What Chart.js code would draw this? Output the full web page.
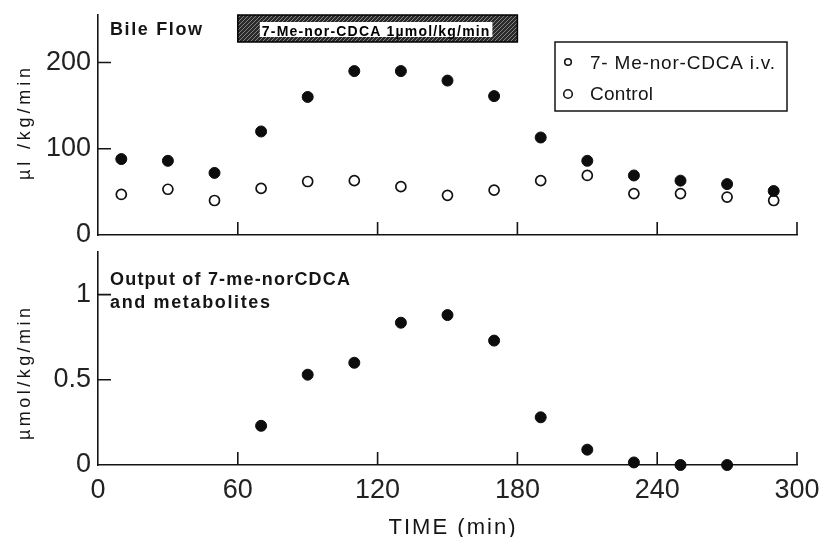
<!DOCTYPE html>
<html><head><meta charset="utf-8">
<script src="https://cdn.jsdelivr.net/npm/chart.js@4.4.0/dist/chart.umd.min.js"></script>
<style>
html,body{margin:0;padding:0;background:#fff;}
#wrap{position:relative;width:820px;height:537px;overflow:hidden;background:#fff;}
canvas{position:absolute;left:0;}
#c1{top:0;} #c2{top:245px;}
</style></head><body>
<div id="wrap"><canvas id="c1" width="820" height="260"></canvas><canvas id="c2" width="820" height="292"></canvas></div>
<script>
// ---- data ----
const timeMin = [10, 30, 50, 70, 90, 110, 130, 150, 170, 190, 210, 230, 250, 270, 290];
const bileFlowTreated = [88, 86, 72, 120, 160, 190, 190, 179, 161, 113, 86, 69, 63, 59, 51];
const bileFlowControl = [47, 53, 40, 54, 62, 63, 56, 46, 52, 63, 69, 48, 48, 44, 40];
const outputTime = [70, 90, 110, 130, 150, 170, 190, 210, 230, 250, 270];
const outputValues = [0.23, 0.53, 0.6, 0.835, 0.88, 0.73, 0.28, 0.09, 0.015, 0, 0];
const xTicks = [0, 60, 120, 180, 240, 300];
const bileTicks = [0, 100, 200];
const outputTicks = [0, 0.5, 1];
const infusionWindow = [60, 180];
const infusionLabel = '7-Me-nor-CDCA 1\u00b5mol/kg/min';
const seriesLabels = ['7- Me-nor-CDCA i.v.', 'Control'];
const panelTitleTop = 'Bile Flow';
const panelTitleBottom = ['Output of 7-me-norCDCA', 'and metabolites'];
const yTitleTop = '\u00b5l /kg/min';
const yTitleBottom = '\u00b5mol/kg/min';
const xTitle = 'TIME (min)';

// ---- helpers ----
const FAM = '"Liberation Sans", Arial, Helvetica, sans-serif';
const INK = '#151515';
function fitText(ctx, text, x, y, width, align){
  ctx.letterSpacing = '0px';
  const n = [...text].length;
  const w = ctx.measureText(text).width;
  const ls = n > 1 ? (width - w) / (n - 1) : 0;
  ctx.letterSpacing = ls + 'px';
  const sx = align === 'center' ? x - width / 2 : x;
  ctx.textAlign = 'left';
  ctx.fillText(text, sx, y);
  ctx.letterSpacing = '0px';
}
function pts(xs, ys){ return xs.map((x, i) => ({x: x, y: ys[i]})); }
function drawInwardTicks(chart, yVals){
  const ctx = chart.ctx, a = chart.chartArea, xs = chart.scales.x, ys = chart.scales.y;
  ctx.save();
  ctx.strokeStyle = INK; ctx.lineWidth = 1.6;
  ctx.beginPath();
  xTicks.filter(v => v > 0).forEach(v => {
    const px = xs.getPixelForValue(v);
    ctx.moveTo(px, a.bottom); ctx.lineTo(px, a.bottom - 13);
  });
  yVals.forEach(v => {
    const py = ys.getPixelForValue(v);
    ctx.moveTo(a.left, py); ctx.lineTo(a.left + 13, py);
  });
  ctx.stroke();
  ctx.restore();
}
function drawYTitle(ctx, text, cx, cy, len){
  ctx.save();
  ctx.translate(cx, cy); ctx.rotate(-Math.PI / 2);
  ctx.fillStyle = INK; ctx.font = '18px ' + FAM; ctx.textBaseline = 'middle';
  fitText(ctx, text, 0, 0, len, 'center');
  ctx.restore();
}
function hatchPattern(ctx){
  const p = document.createElement('canvas'); p.width = 4; p.height = 4;
  const g = p.getContext('2d');
  g.fillStyle = '#2a2a2a'; g.fillRect(0, 0, 4, 4);
  g.strokeStyle = '#9a9a9a'; g.lineWidth = 0.8;
  g.beginPath(); g.moveTo(0, 4); g.lineTo(4, 0); g.moveTo(-1, 1); g.lineTo(1, -1); g.moveTo(3, 5); g.lineTo(5, 3); g.stroke();
  return ctx.createPattern(p, 'repeat');
}

const commonY = (ticks, max, fmt) => ({
  type: 'linear', min: 0, max: max,
  afterBuildTicks: s => { s.ticks = ticks.map(v => ({value: v})); },
  ticks: {font: {family: FAM, size: 27}, color: '#222', padding: 7, callback: fmt},
  grid: {display: false, drawTicks: false},
  border: {display: true, color: INK, width: 1.6},
  afterFit: s => { s.width = 98; s.paddingTop = 0; s.paddingBottom = 0; }
});
const commonXFit = h => (s => { s.height = h; s.paddingLeft = 0; s.paddingRight = 0; });

// ---- top panel ----
const topPlugin = {
  id: 'topPanel',
  afterDraw(chart){
    const ctx = chart.ctx, a = chart.chartArea, xs = chart.scales.x;
    drawInwardTicks(chart, bileTicks.filter(v => v > 0));
    // infusion bar
    const x0 = xs.getPixelForValue(infusionWindow[0]), x1 = xs.getPixelForValue(infusionWindow[1]);
    const y0 = a.top, h = 27;
    ctx.save();
    ctx.fillStyle = hatchPattern(ctx);
    ctx.fillRect(x0, y0, x1 - x0, h);
    ctx.strokeStyle = '#000'; ctx.lineWidth = 1.5; ctx.strokeRect(x0, y0, x1 - x0, h);
    ctx.fillStyle = '#fff';
    ctx.fillRect(x0 + 22, y0 + 7, (x1 - x0) - 47, 15);
    ctx.fillStyle = '#000'; ctx.font = 'bold 14px ' + FAM; ctx.textBaseline = 'alphabetic';
    fitText(ctx, infusionLabel, x0 + 24, y0 + 21, (x1 - x0) - 52, 'left');
    // panel title
    ctx.fillStyle = INK; ctx.font = 'bold 18px ' + FAM;
    fitText(ctx, panelTitleTop, a.left + 12, 35, 92, 'left');
    // legend
    const lx = a.right - 242, ly = a.top + 27, lw = 232, lh = 69;
    ctx.strokeStyle = INK; ctx.lineWidth = 1.5; ctx.strokeRect(lx, ly, lw, lh);
    ctx.lineWidth = 1.6;
    ctx.beginPath(); ctx.arc(lx + 13, ly + 20, 3.3, 0, Math.PI * 2); ctx.stroke();
    ctx.beginPath(); ctx.arc(lx + 13, ly + 52, 4.3, 0, Math.PI * 2); ctx.stroke();
    ctx.fillStyle = INK; ctx.font = '19px ' + FAM; ctx.textBaseline = 'alphabetic';
    fitText(ctx, chart.data.datasets[0].label, lx + 35, ly + 27, 185, 'left');
    fitText(ctx, chart.data.datasets[1].label, lx + 35, ly + 58, 63, 'left');
    drawYTitle(ctx, yTitleTop, 25, 124, 112);
    ctx.restore();
  }
};
new Chart(document.getElementById('c1'), {
  type: 'scatter',
  data: {datasets: [
    {label: seriesLabels[0], data: pts(timeMin, bileFlowTreated), pointRadius: 5.5, pointBackgroundColor: '#0d0d0d', pointBorderColor: '#0d0d0d', pointBorderWidth: 1, clip: false},
    {label: seriesLabels[1], data: pts(timeMin, bileFlowControl), pointRadius: 5, pointBackgroundColor: '#fff', pointBorderColor: '#111', pointBorderWidth: 1.7, clip: false}
  ]},
  options: {
    responsive: false, animation: false, devicePixelRatio: 1,
    layout: {padding: {top: 15, right: 23, left: 0, bottom: 0}},
    plugins: {legend: {display: false}, tooltip: {enabled: false}},
    scales: {
      x: {type: 'linear', min: 0, max: 300,
        afterBuildTicks: s => { s.ticks = xTicks.map(v => ({value: v})); },
        ticks: {display: false}, grid: {display: false, drawTicks: false},
        border: {display: true, color: INK, width: 1.6},
        afterFit: commonXFit(25)},
      y: commonY(bileTicks, 255, v => String(v))
    }
  },
  plugins: [topPlugin]
});

// ---- bottom panel ----
const bottomPlugin = {
  id: 'bottomPanel',
  afterDraw(chart){
    const ctx = chart.ctx, a = chart.chartArea;
    drawInwardTicks(chart, outputTicks.filter(v => v > 0));
    ctx.save();
    ctx.fillStyle = INK; ctx.font = 'bold 18px ' + FAM; ctx.textBaseline = 'alphabetic';
    fitText(ctx, panelTitleBottom[0], a.left + 12, 40, 240, 'left');
    fitText(ctx, panelTitleBottom[1], a.left + 12, 63, 160, 'left');
    drawYTitle(ctx, yTitleBottom, 25, 129, 132);
    ctx.fillStyle = INK; ctx.font = '22px ' + FAM; ctx.textBaseline = 'alphabetic';
    fitText(ctx, xTitle, 452, 289, 127, 'center');
    ctx.restore();
  }
};
new Chart(document.getElementById('c2'), {
  type: 'scatter',
  data: {datasets: [
    {label: seriesLabels[0], data: pts(outputTime, outputValues), pointRadius: 5.5, pointBackgroundColor: '#0d0d0d', pointBorderColor: '#0d0d0d', pointBorderWidth: 1, clip: false}
  ]},
  options: {
    responsive: false, animation: false, devicePixelRatio: 1,
    layout: {padding: {top: 7, right: 23, left: 0, bottom: 0}},
    plugins: {legend: {display: false}, tooltip: {enabled: false}},
    scales: {
      x: {type: 'linear', min: 0, max: 300,
        afterBuildTicks: s => { s.ticks = xTicks.map(v => ({value: v})); },
        ticks: {font: {family: FAM, size: 27}, color: '#222', padding: 9, maxRotation: 0, autoSkip: false, callback: v => String(v)},
        grid: {display: false, drawTicks: false},
        border: {display: true, color: INK, width: 1.6},
        afterFit: commonXFit(72)},
      y: commonY(outputTicks, 1.25, v => (v === 0.5 ? '0.5' : String(v)))
    }
  },
  plugins: [bottomPlugin]
});
</script>
</body></html>
